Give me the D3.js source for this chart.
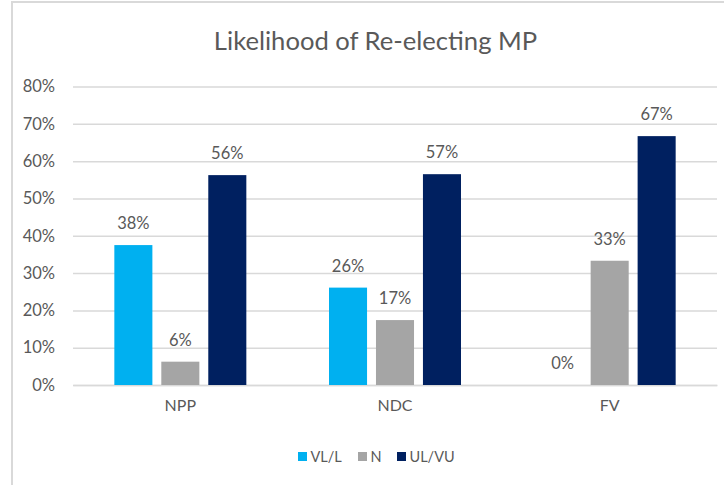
<!DOCTYPE html>
<html>
<head>
<meta charset="utf-8">
<script src="https://cdn.jsdelivr.net/npm/d3@7"></script>
<style>
  body { margin: 0; background: #fff; }
  text { font-family: Lato, "Open Sans", sans-serif; fill: #595959; }
</style>
</head>
<body>
<svg id="chart" width="724" height="485"></svg>
<script>
// donnees du graphique
var parties = ["NPP", "NDC", "FV"];
var series = ["VL/L", "N", "UL/VU"];
var vlL = [0.375, 0.261, 0];
var neutre = [0.0625, 0.174, 0.333];
var ulVu = [0.5625, 0.565, 0.667];
var labels = [["38%", "6%", "56%"], ["26%", "17%", "57%"], ["0%", "33%", "67%"]];
var yTicks = [0, 0.1, 0.2, 0.3, 0.4, 0.5, 0.6, 0.7, 0.8];
var couleurs = ["#00B0F0", "#A5A5A5", "#002060"];

var svg = d3.select("#chart");

// cadre
svg.append("path")
    .attr("d", "M12,485 L12,2 L724,2")
    .attr("fill", "none")
    .attr("stroke", "#d9d9d9")
    .attr("stroke-width", 2);

var x0 = d3.scaleBand().domain(parties).range([73, 717]);
var x1 = d3.scaleBand().domain(series).range([0, x0.bandwidth()])
    .paddingInner(0.19).paddingOuter(0.88);
var y = d3.scaleLinear().domain([0, 0.8]).range([385, 86.5]);
var color = d3.scaleOrdinal().domain(series).range(couleurs);

// titre
svg.append("text")
    .attr("x", 375.5).attr("y", 50)
    .attr("text-anchor", "middle")
    .style("font-size", "25.6px")
    .text("Likelihood of Re-electing MP");

// axe y + grille
var yAxis = svg.append("g")
    .attr("transform", "translate(73,0)")
    .call(d3.axisLeft(y).tickValues(yTicks).tickFormat(d3.format(".0%"))
        .tickSize(-644).tickPadding(18));
yAxis.select(".domain").remove();
yAxis.selectAll("line").attr("stroke", "#d9d9d9").attr("stroke-width", 1.5);
yAxis.selectAll("text").style("font-size", "16.5px").attr("fill", "#595959");

// axe x
var xAxis = svg.append("g")
    .attr("transform", "translate(0,385)")
    .call(d3.axisBottom(x0).tickSize(0).tickPadding(15));
xAxis.select(".domain").attr("stroke", "#d9d9d9").attr("stroke-width", 1.5);
xAxis.selectAll("text").style("font-size", "16px").attr("fill", "#595959");

var rows = parties.map(function(p, i) {
    return { partie: p, valeurs: [vlL[i], neutre[i], ulVu[i]], labels: labels[i] };
});

var groupes = svg.append("g").selectAll("g")
    .data(rows)
    .enter().append("g")
    .attr("transform", function(d) { return "translate(" + x0(d.partie) + ",0)"; });

groupes.selectAll("rect")
    .data(function(d) { return d.valeurs.map(function(v, j) { return { s: series[j], v: v }; }); })
    .enter().append("rect")
    .attr("x", function(d) { return x1(d.s); })
    .attr("width", x1.bandwidth())
    .attr("y", function(d) { return y(d.v); })
    .attr("height", function(d) { return y(0) - y(d.v); })
    .attr("fill", function(d) { return color(d.s); });

groupes.selectAll(".lbl")
    .data(function(d) { return d.valeurs.map(function(v, j) { return { s: series[j], v: v, t: d.labels[j] }; }); })
    .enter().append("text")
    .attr("class", "lbl")
    .attr("x", function(d) { return x1(d.s) + x1.bandwidth() / 2; })
    .attr("y", function(d) { return y(d.v) - 16; })
    .attr("text-anchor", "middle")
    .style("font-size", "16.5px")
    .text(function(d) { return d.t; });

// legende
var legX = [298, 358, 397];
var leg = svg.append("g").selectAll("g")
    .data(series)
    .enter().append("g")
    .attr("transform", function(d, i) { return "translate(" + legX[i] + ",452)"; });
leg.append("rect").attr("width", 9).attr("height", 9)
    .attr("fill", function(d) { return color(d); });
leg.append("text").attr("x", 12.5).attr("y", 10)
    .style("font-size", "14.5px")
    .text(function(d) { return d; });
</script>
</body>
</html>
